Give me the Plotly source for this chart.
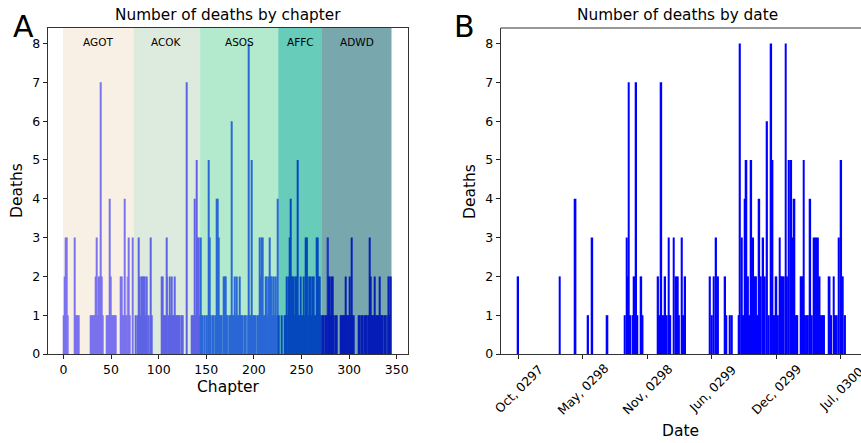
import plotly.graph_objects as go

# ---------------- data ----------------
book_names = ["AGOT", "ACOK", "ASOS", "AFFC", "ADWD"]
book_chapter_counts = [74, 70, 82, 46, 73]

agot_deaths = [1, 2, 3, 3, 1, 1, 0, 0, 0, 0,
               0, 0, 3, 1, 1, 1, 1, 0, 0, 0,
               0, 0, 0, 0, 0, 0, 0, 0, 0, 1,
               1, 1, 1, 1, 2, 3, 1, 2, 2, 7,
               2, 1, 0, 0, 0, 1, 1, 1, 1, 4,
               2, 1, 1, 1, 1, 1, 0, 0, 0, 0,
               2, 2, 1, 1, 4, 1, 1, 2, 1, 3,
               1, 0, 0, 3]
acok_deaths = [0, 0, 1, 0, 1, 3, 2, 1, 2, 2,
               2, 2, 1, 2, 1, 0, 1, 0, 3, 1,
               0, 0, 0, 0, 0, 0, 0, 0, 0, 2,
               2, 1, 1, 1, 3, 2, 1, 1, 2, 1,
               2, 1, 1, 2, 1, 1, 1, 1, 1, 0,
               1, 1, 0, 0, 0, 7, 0, 0, 0, 0,
               0, 1, 1, 1, 4, 1, 5, 3, 3, 1]
asos_deaths = [3, 1, 1, 0, 1, 0, 1, 1, 0, 5,
               3, 1, 0, 1, 1, 0, 1, 4, 4, 3,
               1, 1, 1, 0, 2, 2, 2, 1, 1, 1,
               0, 1, 1, 6, 1, 1, 2, 1, 2, 1,
               1, 2, 1, 1, 1, 0, 1, 1, 0, 1,
               1, 8, 1, 1, 5, 1, 1, 1, 1, 0,
               1, 1, 3, 2, 3, 3, 1, 1, 2, 2,
               1, 1, 2, 3, 2, 2, 1, 2, 1, 2,
               1, 4]
affc_deaths = [1, 0, 0, 1, 0, 0, 1, 1, 2, 1,
               1, 2, 3, 4, 2, 2, 2, 1, 2, 2,
               5, 1, 1, 2, 1, 1, 2, 1, 3, 3,
               3, 2, 1, 2, 2, 1, 2, 2, 1, 1,
               3, 3, 2, 2, 1, 1]
adwd_deaths = [1, 1, 0, 1, 1, 3, 3, 2, 2, 1,
               2, 2, 1, 0, 1, 1, 0, 0, 0, 1,
               1, 1, 1, 1, 2, 1, 1, 1, 1, 2,
               1, 3, 1, 1, 0, 0, 0, 0, 1, 1,
               0, 1, 1, 0, 1, 1, 1, 0, 1, 1,
               3, 2, 1, 1, 1, 2, 1, 1, 1, 1,
               2, 1, 1, 1, 0, 1, 1, 0, 1, 2,
               2, 1, 2]

# deaths by date: day offset from the first recorded death, and count
death_day = [0, 129, 178, 217, 230, 277, 331, 337, 340, 343, 348, 357, 360, 366, 370,
             382, 386, 434, 438, 444, 450, 456, 461, 467, 472, 483, 490, 495, 499, 508,
             513, 518, 595, 601, 607, 614, 620, 642, 646, 657, 663, 686, 688, 694, 698,
             704, 708, 713, 717, 723, 729, 734, 738, 742, 748, 753, 760, 765, 772, 777,
             785, 789, 794, 801, 806, 811, 816, 820, 824, 830, 834, 840, 847, 852, 857,
             862, 866, 877, 881, 886, 890, 895, 899, 906, 911, 919, 925, 930, 935, 940,
             945, 949, 966, 971, 979, 984, 988, 995, 1002, 1007, 1014]
death_count = [2, 2, 4, 1, 3, 1, 1, 3, 2, 7, 1, 1, 2, 7, 1,
               2, 1, 2, 1, 7, 1, 2, 1, 3, 1, 3, 2, 2, 1, 3,
               1, 2, 2, 1, 2, 3, 2, 2, 1, 1, 1, 1, 8, 3, 1,
               4, 5, 2, 1, 5, 3, 2, 2, 1, 4, 2, 3, 2, 6, 1,
               8, 5, 1, 2, 1, 3, 2, 2, 2, 8, 2, 5, 5, 3, 4,
               1, 1, 2, 2, 5, 1, 1, 1, 4, 1, 3, 3, 3, 2, 1,
               1, 1, 2, 1, 2, 1, 1, 3, 5, 2, 1]

date_tick_days = [0, 200, 400, 600, 800, 1000]
date_tick_labels = ["Oct, 0297", "May, 0298", "Nov, 0298", "Jun, 0299", "Dec, 0299", "Jul, 0300"]
chapter_ticks = [0, 50, 100, 150, 200, 250, 300, 350]
death_ticks = [0, 1, 2, 3, 4, 5, 6, 7, 8]

# ---------------- styles ----------------
band_colors = ["#F9F0E5", "#DDEBDF", "#B3EACD", "#67CCBA", "#78A8AE"]
bar_colors = ["#7A72EE", "#5E64E4", "#2A68D6", "#0648BE", "#061DB6"]
FONT = "DejaVu Sans"
W, H = 861, 443

def px_x(p):
    return p / W

def px_y(p):
    return 1 - p / H

all_deaths = [agot_deaths, acok_deaths, asos_deaths, affc_deaths, adwd_deaths]
chapters, deaths, colors = [], [], []
starts = []
c = 0
for bi, (n, vals) in enumerate(zip(book_chapter_counts, all_deaths)):
    starts.append(c)
    for k in range(n):
        chapters.append(c + k)
        deaths.append(vals[k])
        colors.append(bar_colors[bi])
    c += n
ends = starts[1:] + [c]

fig = go.Figure()
fig.add_trace(go.Bar(x=chapters, y=deaths, width=1, marker=dict(color=colors, line=dict(width=0)),
                     xaxis="x", yaxis="y", showlegend=False, hoverinfo="skip"))
fig.add_trace(go.Bar(x=death_day, y=death_count, width=5.5, marker=dict(color="#0000FF", line=dict(width=0)),
                     xaxis="x2", yaxis="y2", showlegend=False, hoverinfo="skip"))

shapes = []
annotations = []
for name, s, e, col in zip(book_names, starts, ends, band_colors):
    shapes.append(dict(type="rect", xref="x", yref="y domain", x0=s - 0.5, x1=e - 0.5, y0=0, y1=1,
                       fillcolor=col, line=dict(width=0), layer="below"))
    annotations.append(dict(text=name, xref="x", yref="paper", x=(s + e) / 2 - 0.5, y=px_y(42),
                            showarrow=False, font=dict(family=FONT, size=10.5, color="black"),
                            xanchor="center", yanchor="middle"))

# top spine of right panel
shapes.append(dict(type="line", xref="x2 domain", yref="y2 domain", x0=0, x1=1, y0=1, y1=1,
                   line=dict(color="#333333", width=1.2)))

def txt(t, x, y, size, angle=0):
    return dict(text=t, xref="paper", yref="paper", x=px_x(x), y=px_y(y), showarrow=False,
                font=dict(family=FONT, size=size, color="black"), xanchor="center",
                yanchor="middle", textangle=angle)

annotations += [
    txt("Number of deaths by chapter", 228, 15, 15.3),
    txt("Number of deaths by date", 677, 15, 15.3),
    txt("Chapter", 228, 387, 15.5),
    txt("Date", 680, 431, 15.5),
    txt("Deaths", 17, 191, 15.5, -90),
    txt("Deaths", 470, 191, 15.5, -90),
    txt("A", 23, 27, 30),
    txt("B", 464, 27, 30),
]

# rotated date tick labels, centred on their ticks (matplotlib style)
for d, lab in zip(date_tick_days, date_tick_labels):
    annotations.append(dict(text=lab, xref="x2", yref="paper", x=d, y=px_y(389), showarrow=False,
                            font=dict(family=FONT, size=12.5, color="black"), xanchor="center",
                            yanchor="middle", textangle=-45))

axis_common = dict(showgrid=False, zeroline=False, ticks="outside", ticklen=4, tickwidth=1,
                   tickcolor="#222222", linecolor="#333333", linewidth=1.2, showline=True,
                   automargin=False,
                   tickfont=dict(family=FONT, size=12.5, color="black"))

y_dom = [px_y(354), px_y(28)]
fig.update_layout(
    width=W, height=H, margin=dict(l=0, r=0, t=0, b=0, autoexpand=False),
    paper_bgcolor="white", plot_bgcolor="white", barmode="overlay",
    xaxis=dict(domain=[px_x(47.7), px_x(407.7)], range=[-16.5, 361.5], tickvals=chapter_ticks,
               anchor="y", mirror=True, **axis_common),
    yaxis=dict(domain=y_dom, range=[0, 8.4], tickvals=death_ticks, anchor="x", mirror=True,
               **axis_common),
    xaxis2=dict(domain=[px_x(500.7), 1.0], range=[-54, 1063.5], tickvals=date_tick_days,
                showticklabels=False, anchor="y2", **axis_common),
    yaxis2=dict(domain=y_dom, range=[0, 8.4], tickvals=death_ticks, anchor="x2", **axis_common),
    shapes=shapes, annotations=annotations,
)

fig.write_html("out.html")
